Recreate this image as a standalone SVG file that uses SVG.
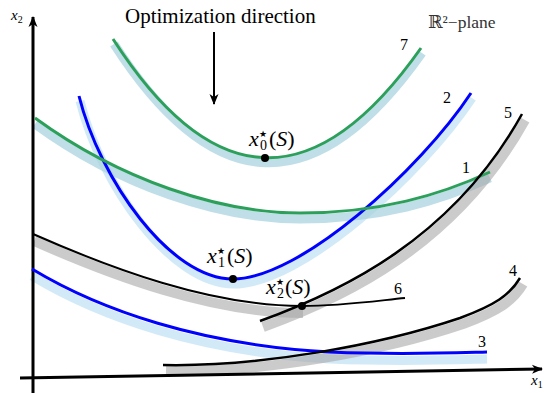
<svg xmlns="http://www.w3.org/2000/svg" width="547" height="393" viewBox="0 0 547 393">
<style>
text{fill:#000;font-family:'Liberation Serif','DejaVu Serif',serif}
.it{font-style:italic}
.st{font-family:'DejaVu Sans',sans-serif;font-size:9px;font-style:normal}
.num{font-size:16px;text-anchor:middle}
.ln{fill:none;stroke-linecap:butt}
.sg{fill:none;stroke:#a9d3df;stroke-width:9;opacity:.75}
.sb{fill:none;stroke:#c3e1f4;stroke-width:9;opacity:.75}
.sk{fill:none;stroke:#a8a8a8;stroke-width:10;opacity:.6}
.g{stroke:#2ca05a;stroke-width:3}
.b{stroke:#0000ff;stroke-width:3}
.k{stroke:#000;stroke-width:2.5}
</style>
<defs>
<marker id="ah" viewBox="-12 -6 14 12" refX="0" refY="0" markerWidth="14" markerHeight="12" markerUnits="userSpaceOnUse" orient="auto">
<path d="M1,0 L-10,-4.5 L-7,0 L-10,4.5 Z" fill="#000"/>
</marker>
</defs>
<g id="shadows">
<path class="sg" transform="translate(1,5)" d="M113,39 Q263,272 421,48"/>
<path class="sb" transform="translate(1,5)" d="M79,96 C100,180 170,279 233,279 C300,279 420,170 471,93"/>
<path class="sg" transform="translate(0,6)" d="M35,118 C120,180 220,213 300,213 C380,213 440,195 490,172"/>
<path class="sk" transform="translate(3,6)" d="M260,321 C340,292 452,240 522,114"/>
<path class="sk" transform="translate(1,7)" d="M33,234 C110,268 210,306 302,306"/>
<path class="sb" transform="translate(0,7)" d="M32,269 C100,310 200,345 330,352 C400,355 450,353 487,352"/>
<path class="sk" transform="translate(3,6)" d="M163,365 C260,367 380,345 460,318 C495,305 510,295 520,278"/>
</g>
<g id="axes">
<line x1="33" y1="393" x2="33" y2="17" stroke="#000" stroke-width="3" marker-end="url(#ah)"/>
<line x1="20" y1="378" x2="542" y2="369" stroke="#000" stroke-width="3" marker-end="url(#ah)"/>
<text x="11" y="20" font-size="15"><tspan class="it">x</tspan><tspan font-size="10" dy="3">2</tspan></text>
<text x="531" y="385" font-size="15"><tspan class="it">x</tspan><tspan font-size="10" dy="3">1</tspan></text>
</g>
<g id="connectors">
<path id="c7" class="ln g" d="M113,39 Q263,272 421,48"/>
<path id="c2" class="ln b" d="M79,96 C100,180 170,279 233,279 C300,279 420,170 471,93"/>
<path id="c1" class="ln g" d="M35,118 C120,180 220,213 300,213 C380,213 440,195 490,172"/>
<path id="c5" class="ln k" d="M260,321 C340,292 452,240 522,114"/>
<path id="c6" class="ln k" style="stroke-width:2" d="M33,234 C110,268 210,306 302,306 C340,306 375,301 405,298"/>
<path id="c3" class="ln b" d="M32,269 C100,310 200,345 330,352 C400,355 450,353 487,352"/>
<path id="c4" class="ln k" d="M163,365 C260,367 380,345 460,318 C495,305 510,295 520,278"/>
<line x1="214" y1="32" x2="214" y2="104" stroke="#000" stroke-width="2" marker-end="url(#ah)"/>
</g>
<g id="title">
<text x="125" y="23" font-size="21">Optimization direction</text>
<text x="428" y="28" font-size="17.5" style="fill:#333">ℝ²−plane</text>
</g>
<g id="numbers">
<text class="num" x="404" y="50">7</text>
<text class="num" x="447" y="103">2</text>
<text class="num" x="508" y="118">5</text>
<text class="num" x="466" y="173">1</text>
<text class="num" x="398" y="294">6</text>
<text class="num" x="513" y="276">4</text>
<text class="num" x="482" y="347">3</text>
</g>
<g id="x0">
<circle cx="265" cy="158" r="4"/>
<text font-size="22"><tspan class="it" x="249" y="146">x</tspan><tspan class="st" x="259" y="137">★</tspan><tspan font-size="14" x="260" y="150">0</tspan><tspan x="269" y="146">(<tspan class="it">S</tspan>)</tspan></text>
</g>
<g id="x1">
<circle cx="233" cy="279" r="4"/>
<text font-size="22"><tspan class="it" x="207" y="263">x</tspan><tspan class="st" x="217" y="254">★</tspan><tspan font-size="14" x="218" y="267">1</tspan><tspan x="227" y="263">(<tspan class="it">S</tspan>)</tspan></text>
</g>
<g id="x2">
<circle cx="302" cy="306" r="4"/>
<text font-size="22"><tspan class="it" x="266" y="294">x</tspan><tspan class="st" x="276" y="285">★</tspan><tspan font-size="14" x="277" y="298">2</tspan><tspan x="285" y="294">(<tspan class="it">S</tspan>)</tspan></text>
</g>
</svg>
